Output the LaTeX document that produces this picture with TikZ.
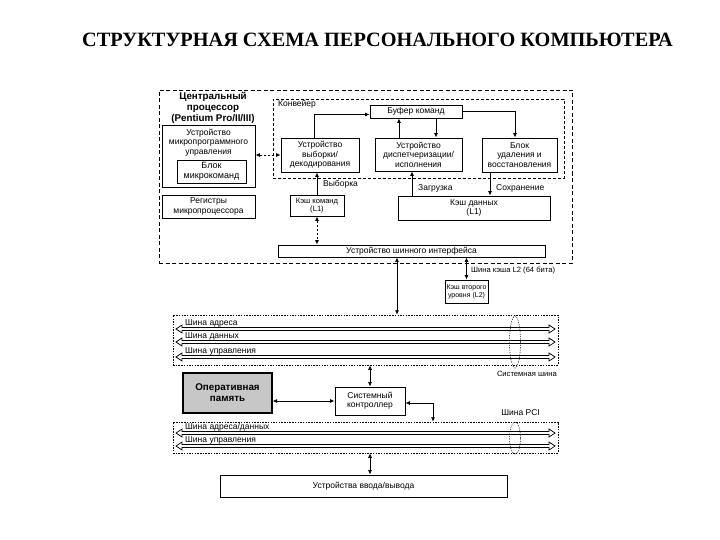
\documentclass[tikz,border=0pt]{standalone}
\usepackage{fontspec}
\setmainfont{Liberation Serif}
\setsansfont{Liberation Sans}
\usetikzlibrary{arrows.meta,shapes.geometric}
\begin{document}
\begin{tikzpicture}[x=1pt,y=-1pt,
  every node/.style={font=\sffamily\fontsize{8.5}{9.4}\selectfont, inner sep=0pt},
  small/.style={font=\sffamily\fontsize{7.6}{8.6}\selectfont},
  box/.style={draw, line width=0.9pt, align=center},
  lbl/.style={align=center},
  frame/.style={draw, line width=0.8pt, dash pattern=on 4pt off 2.5pt},
  conv/.style={draw, line width=0.7pt, dash pattern=on 3pt off 2pt},
  busframe/.style={draw, line width=0.5pt, dash pattern=on 1.5pt off 1.2pt},
  arr/.style={line width=0.8pt, -{Latex[length=4.5pt,width=4pt]}},
  darr/.style={line width=0.8pt, {Latex[length=4.5pt,width=4pt]}-{Latex[length=4.5pt,width=4pt]}},
  busline/.style={draw, line width=0.7pt, fill=white},
  ell/.style={draw, line width=0.5pt, dash pattern=on 1.2pt off 1.2pt, ellipse}
]
\useasboundingbox (0,0) rectangle (720,540);

% title
\node[font=\rmfamily\bfseries\fontsize{20.3}{22}\selectfont] (title) at (377.5,40) {СТРУКТУРНАЯ СХЕМА ПЕРСОНАЛЬНОГО КОМПЬЮТЕРА};

% containers
\node[frame, minimum width=413, minimum height=173] (cpu) at (365.5,176.5) {};
\node[conv, minimum width=291, minimum height=79] (conv) at (418.5,138.5) {};
\node[anchor=west] (convlbl) at (278,104) {Конвейер};
\node[lbl, font=\sffamily\bfseries\fontsize{9.8}{11}\selectfont] (cputxt) at (213,108) {Центральный\\процессор\\(Pentium Pro/II/III)};

% CPU blocks
\node[box, minimum width=93, minimum height=62] (mpu) at (208.5,156) {};
\node[lbl] (mputxt) at (208.5,142.5) {Устройство\\микропрограммного\\управления};
\node[box, minimum width=69, minimum height=23, font=\sffamily\fontsize{9}{10}\selectfont] (blk) at (211.5,171.5) {Блок\\микрокоманд};
\node[box, minimum width=93, minimum height=23] (reg) at (208.5,206.5) {Регистры\\микропроцессора};
\node[box, minimum width=78, minimum height=34] (fetch) at (320,155) {Устройство\\выборки/\\декодирования};
\node[box, minimum width=92, minimum height=13] (buf) at (416,111.5) {Буфер команд};
\node[box, minimum width=87, minimum height=33] (disp) at (418.5,154.5) {Устройство\\диспетчеризации/\\исполнения};
\node[box, minimum width=75, minimum height=34] (ret) at (519.5,155) {Блок\\удаления и\\восстановления};
\node[box, small, minimum width=54, minimum height=21] (icache) at (317,205.5) {Кэш команд\\(L1)};
\node[box, minimum width=152, minimum height=24] (dcache) at (474,208) {Кэш данных\\(L1)};
\node[box, minimum width=267, minimum height=12] (biu) at (411.5,251) {Устройство шинного интерфейса};
\node[box, font=\sffamily\fontsize{7}{8.2}\selectfont, minimum width=43, minimum height=23] (l2) at (466.5,291.5) {Кэш второго\\уровня (L2)};

% CPU connectors
\draw[darr, dash pattern=on 2.5pt off 1.5pt] (fetch.west -| mpu.east) -- (fetch.west);
\draw[arr] ([xshift=-6pt]fetch.north) |- ([yshift=-3pt]buf.west);
\draw[arr] (buf.east) -| ([xshift=-4.5pt]ret.north);
\draw[arr] ([xshift=-19.5pt]disp.north) -- ([xshift=-19.5pt]disp.north |- buf.south);
\draw[arr] ([xshift=17.5pt]disp.north |- buf.south) -- ([xshift=17.5pt]disp.north);
\draw[arr] (icache.north) -- (icache.north |- fetch.south);
\node[anchor=west] (vyb) at (323,184) {Выборка};
\draw[arr] (dcache.north -| 412,0) -- (disp.south -| 412,0);
\node[anchor=west] (zagr) at (418,188) {Загрузка};
\draw[arr] (ret.south -| 490,0) -- (dcache.north -| 490,0);
\node[anchor=west] (sohr) at (496,188) {Сохранение};
\draw[darr, dash pattern=on 2.5pt off 1.5pt] (icache.south) -- (icache.south |- biu.north);

% system bus
\node[busframe, minimum width=385, minimum height=50] (sysbus) at (365.5,340) {};
\draw[darr] (biu.south -| 397,0) -- (sysbus.north -| 397,0);
\draw[darr] (biu.south -| l2.north) -- (l2.north);
\node[anchor=west, small] (l2lbl) at (471,270) {Шина кэша L2 (64 бита)};

\foreach \yy in {329,342,357}
  \draw[busline] (176,\yy) -- (182,{\yy-4}) -- (182,{\yy-1.5}) -- (549,{\yy-1.5}) -- (549,{\yy-4}) -- (555,\yy)
     -- (549,{\yy+4}) -- (549,{\yy+1.5}) -- (182,{\yy+1.5}) -- (182,{\yy+4}) -- cycle;
\node[anchor=west] (sa) at (185,323) {Шина адреса};
\node[anchor=west] (sd) at (185,336) {Шина данных};
\node[anchor=west] (su) at (185,351) {Шина управления};
\node[ell, minimum width=11, minimum height=52] (e1) at (515,342) {};
\node[anchor=east, small] (sysl) at (557,374) {Системная шина};

% RAM and controller
\node[box, line width=1.2pt, minimum width=89, minimum height=40, fill=black!22, font=\sffamily\bfseries\fontsize{9.8}{11}\selectfont] (ram) at (227.5,393) {Оперативная\\память};
\node[box, minimum width=70, minimum height=28] (ctrl) at (370,401) {Системный\\контроллер};
\draw[darr] (sysbus.south -| ctrl.north) -- (ctrl.north);
\draw[darr] (ctrl.west -| ram.east) -- (ctrl.west);

% PCI bus
\node[busframe, minimum width=385, minimum height=31] (pci) at (365.5,437.5) {};
\draw[darr] ([yshift=-2pt]ctrl.east) -| (pci.north -| 433,0);
\node[anchor=east] (pcil) at (540,413) {Шина PCI};
\foreach \yy in {433,446}
  \draw[busline] (176,\yy) -- (182,{\yy-4}) -- (182,{\yy-1.5}) -- (549,{\yy-1.5}) -- (549,{\yy-4}) -- (555,\yy)
     -- (549,{\yy+4}) -- (549,{\yy+1.5}) -- (182,{\yy+1.5}) -- (182,{\yy+4}) -- cycle;
\node[anchor=west] (pad) at (185,427) {Шина адреса/данных};
\node[anchor=west] (pu) at (185,440) {Шина управления};
\node[ell, minimum width=11, minimum height=32] (e2) at (515,438) {};

% I/O
\node[box, minimum width=287, minimum height=22] (io) at (363.5,486) {Устройства ввода/вывода};
\draw[darr] (pci.south -| 370,0) -- (io.north -| 370,0);
\end{tikzpicture}
\end{document}
